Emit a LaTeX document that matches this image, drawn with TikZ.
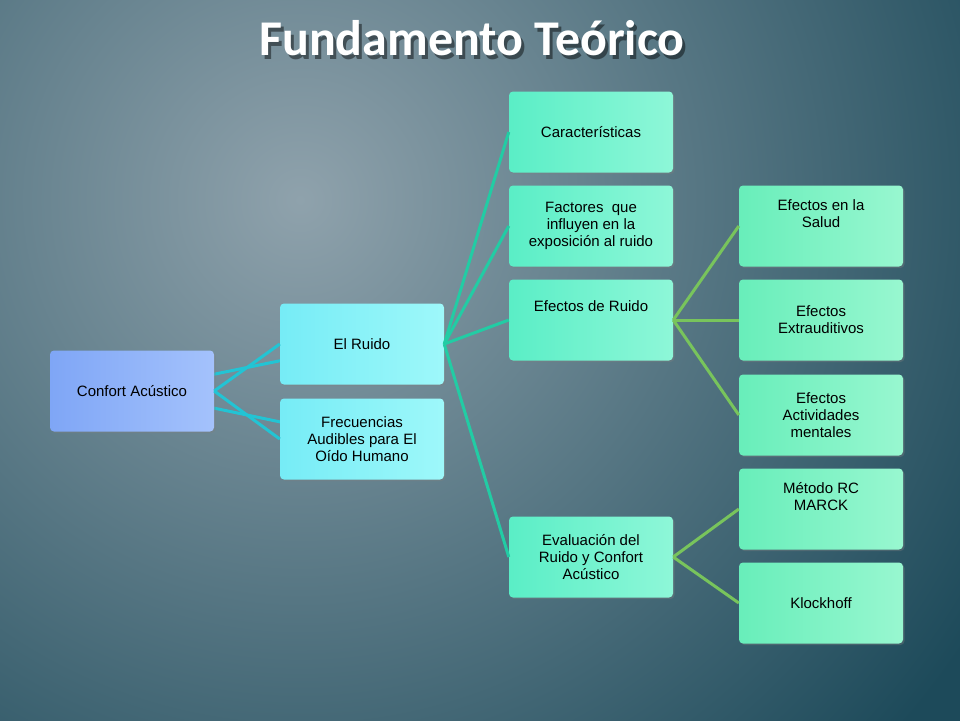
\documentclass[tikz,border=0pt]{standalone}
\usepackage{fontspec}
\setmainfont{Liberation Sans}
\newfontfamily\titlefont{Carlito}
\usetikzlibrary{shadows}
\definecolor{bgin}{HTML}{8FA2AC}
\definecolor{bgout}{HTML}{1D4A5A}
\definecolor{lone}{HTML}{22C4D4}
\definecolor{ltwo}{HTML}{22CCA4}
\definecolor{lthree}{HTML}{78C45C}
\definecolor{rA}{HTML}{7FA6F6}\definecolor{rB}{HTML}{A4C2FC}
\definecolor{oA}{HTML}{76ECF6}\definecolor{oB}{HTML}{9EF8FA}
\definecolor{tA}{HTML}{5AEEC6}\definecolor{tB}{HTML}{8EF7D8}
\definecolor{hA}{HTML}{68EEBA}\definecolor{hB}{HTML}{98F7D0}
\tikzset{
 box/.style={rounded corners=4pt, minimum width=164pt, minimum height=81pt, align=center, font=\fontsize{15}{17}\selectfont, inner sep=2pt, drop shadow={opacity=0.35,shadow xshift=1.5pt,shadow yshift=-1.5pt}},
 rootbox/.style={box, left color=rA, right color=rB},
 onebox/.style={box, left color=oA, right color=oB},
 twobox/.style={box, left color=tA, right color=tB},
 threebox/.style={box, left color=hA, right color=hB},
 lnone/.style={draw=lone, line width=3pt},
 lntwo/.style={draw=ltwo, line width=3pt},
 lnthree/.style={draw=lthree, line width=3pt},
}
\begin{document}
\begin{tikzpicture}[x=1pt,y=-1pt]
\begin{scope}
\clip (0,0) rectangle (960,720);
\shade[inner color=bgin, outer color=bgout] (-500,-600) rectangle (1100,1000);
\end{scope}
\useasboundingbox (0,0) rectangle (960,720);
\node[text=black, opacity=0.45] (tshadow) at (475,42) {\titlefont\bfseries\fontsize{50}{54}\selectfont Fundamento Teórico};
\node[text=white] (t) at (472,38) {\titlefont\bfseries\fontsize{50}{54}\selectfont Fundamento Teórico};

\path[lnone] (132,391) -- (362,344) (132,391) -- (362,439);
\node[rootbox] (r) at (132,391) {Confort Acústico};
\node[onebox] (a) at (362,344) {El Ruido};
\node[onebox] (b) at (362,439) {Frecuencias\\Audibles para El\\Oído Humano};
\node[twobox] (c1) at (591,132) {Características};
\node[twobox] (c2) at (591,226) {Factores \ que\\influyen en la\\exposición al ruido};
\node[twobox] (c3) at (591,320) {Efectos de Ruido\\[10pt]};
\node[twobox] (c4) at (591,557) {Evaluación del\\Ruido y Confort\\Acústico};
\node[threebox] (d1) at (821,226) {Efectos en la\\Salud\\[8pt]};
\node[threebox] (d2) at (821,320) {Efectos\\Extrauditivos};
\node[threebox] (d3) at (821,415) {Efectos\\Actividades\\mentales};
\node[threebox] (d4) at (821,509) {Método RC\\MARCK\\[8pt]};
\node[threebox] (d5) at (821,603) {Klockhoff};

\path[lnone] (r.east) -- (a.west) (r.east) -- (b.west);
\foreach \n in {c1,c2,c3,c4} \path[lntwo] (a.east) -- (\n.west);
\foreach \n in {d1,d2,d3} \path[lnthree] (c3.east) -- (\n.west);
\foreach \n in {d4,d5} \path[lnthree] (c4.east) -- (\n.west);
\end{tikzpicture}
\end{document}
